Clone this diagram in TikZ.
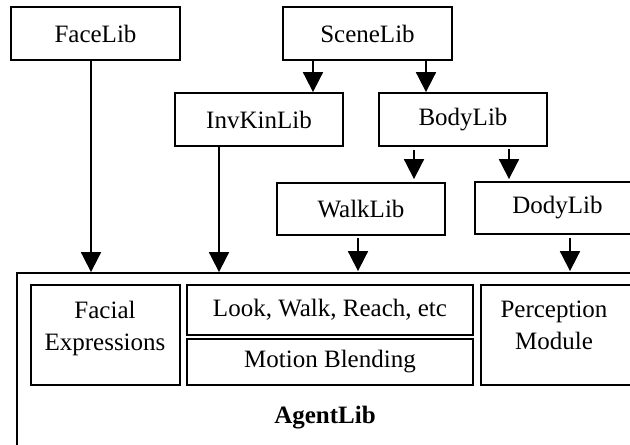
\documentclass[tikz,border=0pt]{standalone}
\usepackage{fontspec}
\setmainfont{Liberation Serif}
\usetikzlibrary{arrows.meta}
\tikzset{
  txt/.style={font=\fontsize{25}{32}\selectfont},
  box/.style={draw, line width=1.8pt, inner sep=0pt, txt},
  lbl/.style={inner sep=0pt, align=center, txt},
  dep/.style={line width=1.8pt, -{Triangle[width=20pt,length=20pt]}}
}
\begin{document}
\begin{tikzpicture}[x=1pt,y=-1pt]
\useasboundingbox (0,0) rectangle (630,445);
\clip (0,0) rectangle (630,445);

% libraries
\node[box, minimum width=169pt, minimum height=53pt] (FaceLib)  at (95.5,33.5)  {FaceLib};
\node[box, minimum width=169pt, minimum height=53pt] (SceneLib) at (367.5,33.5) {SceneLib};
\node[box, minimum width=168pt, minimum height=53pt] (InvKinLib) at (259,119.5) {InvKinLib};
\node[box, minimum width=168pt, minimum height=53pt] (BodyLib)  at (463,119.5)  {BodyLib};
\node[box, minimum width=168pt, minimum height=52pt] (WalkLib)  at (361,209)    {WalkLib};
\node[box, minimum width=165pt, minimum height=52pt] (DodyLib)  at (557.5,208)  {DodyLib};

% agent library and its modules
\node[box, minimum width=616pt, minimum height=187pt] (AgentLib) at (325,366.5) {};
\node[box, minimum width=149pt, minimum height=100pt] (Facial) at (105.5,335) {};
\node[box, minimum width=286pt, minimum height=50pt] (Look) at (330,310) {Look, Walk, Reach, etc};
\node[box, minimum width=286pt, minimum height=46pt] (Motion) at (330,362) {Motion Blending};
\node[box, minimum width=159pt, minimum height=100pt] (Perception) at (560.5,335) {};

\node[lbl, anchor=north] (FacialTxt) at (105,301) {Facial\\Expressions};
\node[lbl, anchor=north] (PercTxt) at (554,301) {Perception\\Module};
\node[lbl, anchor=base, font=\fontsize{25}{32}\selectfont\bfseries] (AgentTxt) at (325,423) {AgentLib};

% connector columns
\coordinate (xf) at (91,0);
\coordinate (xi) at (219,0);
\coordinate (xs1) at (313,0);
\coordinate (xs2) at (426,0);
\coordinate (xb1) at (414,0);
\coordinate (xb2) at (509,0);
\coordinate (xw) at (358,0);
\coordinate (xd) at (570,0);

\draw[dep] (xf |- FaceLib.south) -- (xf |- AgentLib.north);
\draw[dep] (xi |- InvKinLib.south) -- (xi |- AgentLib.north);
\draw[dep] (xs1 |- SceneLib.south) -- (xs1 |- InvKinLib.north);
\draw[dep] (xs2 |- SceneLib.south) -- (xs2 |- BodyLib.north);
\draw[dep, shorten <=3pt, shorten >=3pt] (xb1 |- BodyLib.south) -- (xb1 |- WalkLib.north);
\draw[dep, shorten <=2pt, shorten >=2pt] (xb2 |- BodyLib.south) -- (xb2 |- DodyLib.north);
\draw[dep, shorten <=2pt, shorten >=1pt] (xw |- WalkLib.south) -- (xw |- AgentLib.north);
\draw[dep, shorten <=3pt, shorten >=1pt] (xd |- DodyLib.south) -- (xd |- AgentLib.north);
\end{tikzpicture}
\end{document}
